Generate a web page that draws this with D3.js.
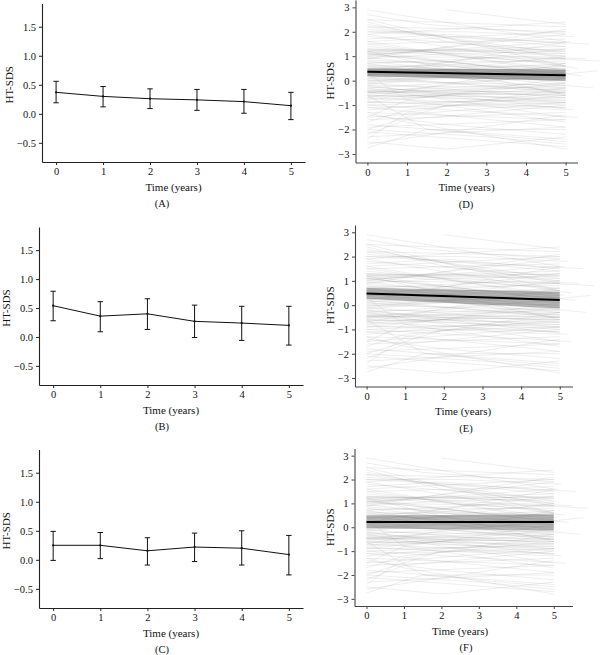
<!DOCTYPE html>
<html>
<head>
<meta charset="utf-8">
<script src="https://cdn.jsdelivr.net/npm/d3@7"></script>
<style>
  html, body { margin: 0; padding: 0; background: #fff; }
  svg { display: block; }
  svg text { font-family: 'Liberation Serif', 'Times New Roman', Times, 'DejaVu Serif', serif !important; fill: #111; }
</style>
</head>
<body>
<svg id="chart" width="600" height="655"></svg>
<script>
// ---------- data ----------
const years = [0, 1, 2, 3, 4, 5];
const xTicks = [0, 1, 2, 3, 4, 5];
const yTicksLeft = [-0.5, 0, 0.5, 1.0, 1.5];
const yTicksRight = [-3, -2, -1, 0, 1, 2, 3];

const meanA = [0.37, 0.30, 0.26, 0.24, 0.21, 0.14];
const lowA  = [0.19, 0.12, 0.09, 0.06, 0.01, -0.10];
const highA = [0.56, 0.47, 0.43, 0.42, 0.42, 0.37];

const meanB = [0.54, 0.36, 0.40, 0.27, 0.24, 0.20];
const lowB  = [0.28, 0.09, 0.13, -0.01, -0.06, -0.14];
const highB = [0.79, 0.61, 0.66, 0.55, 0.53, 0.53];

const meanC = [0.25, 0.25, 0.155, 0.22, 0.20, 0.09];
const lowC  = [-0.01, 0.02, -0.09, -0.03, -0.09, -0.26];
const highC = [0.49, 0.47, 0.38, 0.46, 0.50, 0.42];

const fitTimes = [0, 5];
const fitD = [0.36, 0.22], bandLoD = [0.18, 0.00], bandHiD = [0.50, 0.46];
const fitE = [0.48, 0.21], bandLoE = [0.25, -0.14], bandHiE = [0.72, 0.55];
const fitF = [0.22, 0.22], bandLoF = [-0.04, -0.14], bandHiF = [0.49, 0.55];

// individual trajectories: flat [t0, v0, t1, v1, ...]
const trajectories = [
  [0,2.9, 5,1.6], [0,2.7, 1.5,2.3, 5,1.9], [0,2.5, 5,2.2], [0,2.4, 2,1.6, 5,1.0],
  [0,2.3, 5,0.9], [0,2.2, 3,2.1, 5,2.0], [0,2.1, 5,1.4], [0,2.0, 2.5,2.0, 5.2,1.8],
  [0,1.9, 5,0.6], [0,1.8, 5,1.2], [0,1.7, 2,1.9, 5,1.5], [0,1.6, 5,0.3],
  [0,1.5, 5,1.7], [0,1.4, 4,0.8, 5.3,0.5], [0,1.3, 5,1.1], [0,1.25, 5,0.7],
  [0,1.2, 2,1.3, 5,1.0], [0,1.2, 5,0.2], [0,1.15, 5,1.4], [0,1.1, 3,0.6, 5,0.5],
  [0,1.05, 5,1.6], [0,1.0, 5,0.9], [0,0.95, 5,0.1], [0,0.9, 2,1.1, 5,1.2],
  [0,0.85, 5,0.4], [0,0.8, 5,-0.1], [0,0.75, 5,0.8], [0,0.7, 4,1.0, 5.5,0.9],
  [0,0.65, 5,0.2], [0,0.6, 5,0.6], [0,0.55, 3,0.2, 5,0.1], [0,0.5, 5,0.9],
  [0,0.45, 5,-0.3], [0,0.4, 5,0.5], [0,0.35, 2,0.6, 5,0.3], [0,0.3, 5,0.0],
  [0,0.25, 5,0.7], [0,0.2, 5,-0.5], [0,0.15, 5,0.3], [0,0.1, 3,-0.2, 5,-0.4],
  [0,0.05, 5,0.4], [0,0.0, 5,-0.2], [0,-0.05, 5,0.6], [0,-0.1, 5,-0.7],
  [0,-0.15, 2,0.1, 5,0.0], [0,-0.2, 5,-0.3], [0,-0.25, 5,-0.9], [0,-0.3, 5,0.2],
  [0,-0.35, 5,-0.5], [0,-0.4, 2,-0.6, 5,-0.8], [0,-0.42, 5,-0.1], [0,-0.45, 5,-0.6],
  [0,-0.48, 5,-1.0], [0,-0.5, 3,-0.3, 5,-0.4], [0,-0.55, 5,-0.2], [0,-0.6, 5,-0.9],
  [0,-0.65, 5,-0.5], [0,-0.7, 5,-1.1], [0,-0.75, 2,-0.5, 5,-0.6], [0,-0.8, 5,-0.3],
  [0,-0.85, 5,-1.2], [0,-0.9, 5,-0.8], [0,-1.0, 5,-0.7], [0,-1.1, 3,-1.0, 5,-1.1],
  [0,-1.2, 5,-0.5], [0,-1.3, 5,-1.6], [0,-1.4, 2,-1.8, 5,-2.2], [0,-1.5, 5,-0.9],
  [0,-1.6, 5,-1.3], [0,-1.7, 1,-1.2, 5,-0.6], [0,-1.8, 5,-2.4], [0,-1.9, 5,-1.6],
  [0,-2.0, 2,-1.0, 5,-0.9], [0,-2.1, 5,-2.7], [0,-2.2, 1,-1.6, 5,-1.0], [0,-2.3, 5,-1.9],
  [0,-2.5, 2,-2.8, 5,-2.3], [0,-2.6, 5,-1.4], [0,-2.75, 1.5,-2.0, 5,-2.5], [0,-1.3, 1,-1.7, 5,-2.8],
  [0,0.9, 5,2.1], [2,2.9, 5,2.3], [0,-0.5, 5.8,0.4], [0,1.3, 5.9,0.8],
  [0,0.6, 5.7,-0.3], [0,2.0, 5.6,1.5], [0,-1.0, 5.3,-1.5], [0,-0.2, 5.2,-1.2],
  [0,1.1, 5.4,0.2], [0,0.3, 1,-0.8, 5,-1.7], [0,-2.0, 3,-2.3, 5,-2.6], [0,-0.6, 1.5,-2.0, 5,-2.0],
  [0,-1.5, 1,-0.8, 5,0.1], [0,-2.4, 1,-1.3, 5,-0.3], [0,1.6, 5,2.0], [0,2.2, 5,1.1],
  [0,1.0, 5,1.9], [0,0.4, 5,1.3], [0,-0.3, 5,-1.5], [0,-0.9, 5,-0.1],
  [0,1.2, 5,-0.6], [0,0.1, 5,1.0], [0,-0.1, 4.8,0.5], [0,0.7, 4.9,-0.5],
  [0,1.5, 5.1,0.4], [0,-0.7, 5,0.7], [0,0.2, 5.1,1.6], [0,-1.1, 5,-1.9],
  [0,1.9, 5,2.4], [0,2.5, 5,0.6], [0,1.1, 5,1.3], [0,-0.45, 5,-0.45],
  [0,0.0, 5,0.3], [0,1.25, 5,1.25], [0,-0.6, 5,-0.7], [0,0.5, 5,0.2]
];

// ---------- layout ----------
const svg = d3.select("#chart");
const FONT = "'Liberation Serif', 'Times New Roman', Times, 'DejaVu Serif', serif";

const leftPanels = [
  {mean: meanA, low: lowA, high: highA, label: "(A)", box: [42, 305, 3.5, 162], ylab: 10},
  {mean: meanB, low: lowB, high: highB, label: "(B)", box: [39, 303, 227, 385], ylab: 7},
  {mean: meanC, low: lowC, high: highC, label: "(C)", box: [39, 303, 449.5, 608], ylab: 7}
];
const rightPanels = [
  {fit: fitD, lo: bandLoD, hi: bandHiD, label: "(D)", box: [355.5, 577.5, 0, 162.5], xd: [-0.3, 5.3], yd: [-3.35, 3.3], bandOp: 0.6},
  {fit: fitE, lo: bandLoE, hi: bandHiE, label: "(E)", box: [355, 572.5, 225, 386.5], xd: [-0.3, 5.33], yd: [-3.35, 3.3], bandOp: 0.5},
  {fit: fitF, lo: bandLoF, hi: bandHiF, label: "(F)", box: [354.5, 572.5, 448.5, 606], xd: [-0.32, 5.5], yd: [-3.3, 3.3], bandOp: 0.5}
];

const fmtLeft = d => d3.format(".1f")(d).replace("-", "\u2212");
const fmtRight = d => String(d).replace("-", "\u2212");
const fmtX = d => String(d);

function styleAxis(g, color) {
  g.attr("font-family", FONT);
  g.selectAll("path.domain").attr("stroke", color).attr("stroke-width", 1.1);
  g.selectAll(".tick line").attr("stroke", color);
  g.selectAll(".tick text").attr("font-size", 10.5).attr("fill", "#111")
    .attr("font-family", FONT);
}

function addText(x, y, size, str) {
  return svg.append("text").attr("x", x).attr("y", y)
    .attr("text-anchor", "middle").attr("dominant-baseline", "middle")
    .attr("font-family", FONT).attr("font-size", size).text(str);
}

function axes(p, x, y, yTicks, fmt, color, titleX) {
  const [l, r, t, b] = p.box;
  const gx = svg.append("g").attr("transform", `translate(0,${b})`)
    .call(d3.axisBottom(x).tickValues(xTicks).tickFormat(fmtX).tickSize(3).tickPadding(3).tickSizeOuter(0));
  styleAxis(gx, color);
  const gy = svg.append("g").attr("transform", `translate(${l},0)`)
    .call(d3.axisLeft(y).tickValues(yTicks).tickFormat(fmt).tickSize(3).tickPadding(3).tickSizeOuter(0));
  styleAxis(gy, color);
  addText((x(0) + x(5)) / 2, b + 26, 11, "Time (years)");
  addText(titleX, b + 43, 10.5, p.label);
  svg.append("text")
    .attr("transform", `translate(${p.ylab},${(y(yTicks[0]) + y(yTicks[yTicks.length - 1])) / 2}) rotate(-90)`)
    .attr("text-anchor", "middle").attr("dominant-baseline", "middle")
    .attr("font-family", FONT).attr("font-size", 11).text("HT-SDS");
}

// ---------- left panels ----------
leftPanels.forEach(p => {
  const [l, r, t, b] = p.box;
  const x = d3.scaleLinear().domain([-0.3, 5.3]).range([l, r]);
  const y = d3.scaleLinear().domain([-0.83, 1.9]).range([b, t]);
  const pts = years.map((yr, i) => ({t: yr, m: p.mean[i], lo: p.low[i], hi: p.high[i]}));

  svg.append("path").datum(pts)
    .attr("fill", "none").attr("stroke", "#111").attr("stroke-width", 1)
    .attr("d", d3.line().x(d => x(d.t)).y(d => y(d.m)));

  const eb = svg.append("g").attr("stroke", "#111").attr("stroke-width", 1);
  eb.selectAll("line.v").data(pts).join("line")
    .attr("x1", d => x(d.t)).attr("x2", d => x(d.t))
    .attr("y1", d => y(d.lo)).attr("y2", d => y(d.hi));
  eb.selectAll("line.top").data(pts).join("line")
    .attr("x1", d => x(d.t) - 2.7).attr("x2", d => x(d.t) + 2.7)
    .attr("y1", d => y(d.hi)).attr("y2", d => y(d.hi));
  eb.selectAll("line.bot").data(pts).join("line")
    .attr("x1", d => x(d.t) - 2.7).attr("x2", d => x(d.t) + 2.7)
    .attr("y1", d => y(d.lo)).attr("y2", d => y(d.lo));
  svg.append("g").selectAll("circle").data(pts).join("circle")
    .attr("cx", d => x(d.t)).attr("cy", d => y(d.m)).attr("r", 1.1).attr("fill", "#111");

  axes(p, x, y, yTicksLeft, fmtLeft, "#222", 162);
});

// ---------- right panels ----------
rightPanels.forEach(p => {
  const [l, r, t, b] = p.box;
  p.ylab = 331;
  const x = d3.scaleLinear().domain(p.xd).range([l, r]);
  const y = d3.scaleLinear().domain(p.yd).range([b, t]);

  const line = d3.line().x(d => x(d[0])).y(d => y(d[1]));
  const toPairs = arr => d3.range(0, arr.length, 2).map(i => [arr[i], arr[i + 1]]);

  svg.append("g").selectAll("path").data(trajectories).join("path")
    .attr("fill", "none").attr("stroke", "#8a8a8a").attr("stroke-opacity", 0.2)
    .attr("stroke-width", 0.75)
    .attr("d", d => line(toPairs(d)));

  const band = fitTimes.map((tt, i) => ({t: tt, lo: p.lo[i], hi: p.hi[i], f: p.fit[i]}));
  svg.append("path").datum(band)
    .attr("fill", "#6e6e6e").attr("fill-opacity", p.bandOp)
    .attr("d", d3.area().x(d => x(d.t)).y0(d => y(d.lo)).y1(d => y(d.hi)));
  svg.append("path").datum(band)
    .attr("fill", "none").attr("stroke", "#000").attr("stroke-width", 2)
    .attr("d", d3.line().x(d => x(d.t)).y(d => y(d.f)));

  axes(p, x, y, yTicksRight, fmtRight, "#444", 466);
});
</script>
</body>
</html>
